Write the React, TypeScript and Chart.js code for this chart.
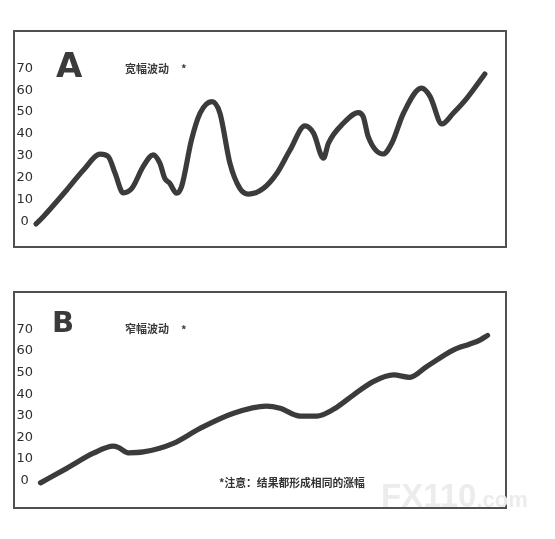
import React, { useEffect, useRef } from "react";
import { Chart, registerables } from "chart.js";

Chart.register(...registerables);

// ---- data ----
const yTicks = [0, 10, 20, 30, 40, 50, 60, 70];

const aX = [0, 1.6, 6.8, 10.5, 14.2, 16.0, 17.5, 19.3, 21.2, 23.7, 25.9, 27.4, 28.5, 29.6, 31.1, 32.2, 34.4, 36.3, 38.9, 40.7, 42.9, 45.1, 47.0, 50.3, 53.3, 56.2, 59.5, 61.4, 63.6, 64.7, 68.0, 71.3, 72.4, 73.5, 76.8, 78.7, 81.3, 85.3, 87.2, 89.8, 92.3, 95.3, 99.3];
const aY = [-1, 2.3, 14.5, 23.6, 30.8, 29.7, 22.1, 13.2, 15.2, 25.1, 30.5, 26.7, 19.8, 17.5, 13.0, 16.0, 37.3, 49.5, 54.8, 49.5, 26.7, 15.2, 12.6, 15.2, 22.1, 32.7, 43.7, 40.4, 29.0, 35.8, 44.9, 49.8, 47.9, 38.8, 30.9, 35.8, 49.5, 60.9, 57.1, 44.6, 49.5, 56.3, 67.4];

const bX = [1, 6.8, 12.7, 17.1, 18.2, 20.4, 23.7, 30.4, 36.3, 43.7, 51.0, 54.0, 58.4, 62.1, 65.8, 70.2, 74.6, 79.1, 82.7, 86.4, 92.3, 96.0, 98.2, 99.9];
const bY = [-1, 5.7, 12.7, 16.0, 15.4, 12.9, 13.3, 17.3, 24.2, 31.2, 34.5, 33.5, 29.9, 29.9, 33.0, 39.6, 45.8, 48.9, 47.8, 52.7, 60.4, 63.2, 65.0, 67.2];

const labelA = "A";
const labelB = "B";
const captionA = "宽幅波动";
const captionB = "窄幅波动";
const captionMark = "*";
const noteText = "*注意：结果都形成相同的涨幅";
const watermarkMain = "FX110";
const watermarkSub = ".com";

const W = 494;
const H = 218;

function Panel(props: { xs: number[]; ys: number[]; left: number; top: number; padTop: number; padBottom: number }) {
  const ref = useRef<HTMLCanvasElement | null>(null);
  useEffect(() => {
    if (!ref.current) return;
    const pts = props.xs.map((x, i) => ({ x, y: props.ys[i] }));
    const chart = new Chart(ref.current, {
      type: "line",
      data: {
        datasets: [
          {
            data: pts,
            borderColor: "#3b3b3b",
            borderWidth: 5.2,
            borderCapStyle: "round",
            borderJoinStyle: "round",
            pointRadius: 0,
            cubicInterpolationMode: "monotone",
            fill: false,
            clip: false as any,
          },
        ],
      },
      options: {
        responsive: false,
        animation: false,
        events: [],
        layout: { padding: { top: props.padTop, bottom: props.padBottom, left: 0, right: 19 } },
        plugins: { legend: { display: false }, tooltip: { enabled: false }, title: { display: false } },
        scales: {
          x: { type: "linear", display: false, min: 0, max: 100 },
          y: {
            type: "linear",
            min: -5,
            max: 75,
            grid: { display: false, drawTicks: false },
            border: { display: false },
            afterBuildTicks: (scale: any) => {
              scale.ticks = yTicks.map((v) => ({ value: v }));
            },
            afterFit: (scale: any) => {
              scale.width = 23;
            },
            ticks: {
              padding: 3,
              crossAlign: "center",
              color: "#2e2e2e",
              font: { family: "DejaVu Sans", size: 13 },
              callback: (v: any) => String(v),
            },
          },
        },
      },
    });
    return () => chart.destroy();
  }, []);
  return (
    <div style={{ position: "absolute", left: props.left, top: props.top, width: W, height: H }}>
      <canvas ref={ref} width={W} height={H} style={{ width: W, height: H, display: "block" }} />
      <div
        style={{
          position: "absolute",
          left: 0,
          top: 0,
          width: W,
          height: H,
          boxSizing: "border-box",
          border: "2px solid #505050",
          pointerEvents: "none",
        }}
      />
    </div>
  );
}

const txt = (extra: React.CSSProperties): React.CSSProperties => ({
  position: "absolute",
  whiteSpace: "nowrap",
  margin: 0,
  ...extra,
});

const capStyle = (left: number, top: number): React.CSSProperties =>
  txt({ left, top, fontFamily: "Noto Sans CJK SC", fontSize: 11, lineHeight: "12px", color: "#3a3a3a", fontWeight: 700 });

export default function App() {
  return (
    <div style={{ position: "absolute", left: 0, top: 0, width: 555, height: 539, background: "#fff", overflow: "hidden" }}>
      <Panel xs={aX} ys={aY} left={13} top={30} padTop={27.3} padBottom={15.3} />
      <Panel xs={bX} ys={bY} left={13} top={291} padTop={27.5} padBottom={17.5} />

      <div style={txt({ left: 56, top: 48, fontFamily: "DejaVu Sans", fontWeight: 700, fontSize: 34, lineHeight: "34px", color: "#3b3b3b" })}>{labelA}</div>
      <div style={txt({ left: 52, top: 308, fontFamily: "DejaVu Sans", fontWeight: 700, fontSize: 29, lineHeight: "29px", color: "#3b3b3b" })}>{labelB}</div>

      <div style={capStyle(125, 61.5)}>{captionA}</div>
      <div style={capStyle(181, 62)}>{captionMark}</div>
      <div style={capStyle(125, 322)}>{captionB}</div>
      <div style={capStyle(181, 322.5)}>{captionMark}</div>

      <div style={txt({ left: 381, top: 479, fontFamily: "Liberation Sans", fontWeight: 700, fontSize: 33, lineHeight: "33px", color: "#ececec" })}>
        {watermarkMain}
        <span style={{ fontSize: 22 }}>{watermarkSub}</span>
      </div>

      <div style={txt({ left: 219, top: 476, fontFamily: "Noto Sans CJK SC", fontWeight: 700, fontSize: 10.8, lineHeight: "12px", color: "#333" })}>{noteText}</div>
    </div>
  );
}
